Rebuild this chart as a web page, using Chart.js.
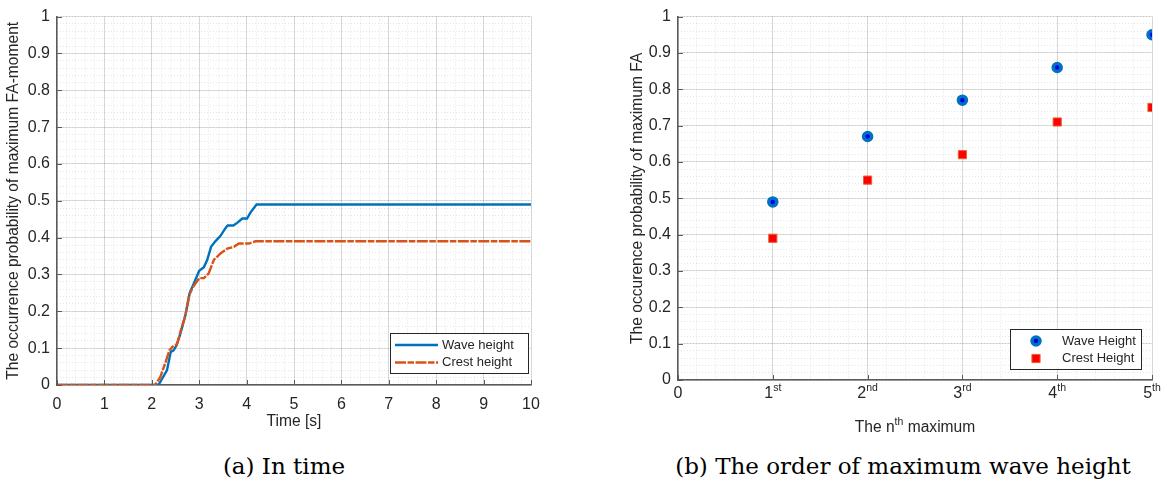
<!DOCTYPE html>
<html>
<head>
<meta charset="utf-8">
<script src="https://cdn.jsdelivr.net/npm/chart.js@4.4.1/dist/chart.umd.min.js"></script>
<style>
  html, body { margin: 0; padding: 0; background: #ffffff; }
  #wrap { position: relative; width: 1167px; height: 482px; overflow: hidden; background: #fff; }
  #c1 { position: absolute; left: 0; top: 0; }
  #c2 { position: absolute; left: 583px; top: 0; }
  .cap { position: absolute; top: 452px; height: 28px; line-height: 28px; font-family: "DejaVu Serif", "Liberation Serif", serif; font-size: 23px; color: #000; text-align: center; white-space: nowrap; }
</style>
</head>
<body>
<div id="wrap">
  <canvas id="c1" width="583" height="440"></canvas>
  <canvas id="c2" width="584" height="440"></canvas>
  <div class="cap" style="left:184px; width:200px;">(a) In time</div>
  <div class="cap" style="left:653px; width:500px;">(b) The order of maximum wave height</div>
</div>
<script>
// ---------- data: panel (a) ----------
const timeWave  = [0, 2.14, 2.32, 2.40, 2.46, 2.52, 2.60, 2.71, 2.80, 2.90, 3.00, 3.10, 3.17, 3.25, 3.34, 3.45, 3.55, 3.60, 3.72, 3.80, 3.91, 4.01, 4.08, 4.21, 10];
const waveProb  = [0, 0, 0.04, 0.09, 0.094, 0.107, 0.138, 0.19, 0.25, 0.28, 0.31, 0.32, 0.34, 0.375, 0.39, 0.405, 0.425, 0.433, 0.433, 0.44, 0.452, 0.452, 0.468, 0.49, 0.49];
const timeCrest = [0, 2.07, 2.18, 2.28, 2.37, 2.46, 2.53, 2.60, 2.71, 2.79, 2.88, 3.00, 3.10, 3.20, 3.31, 3.45, 3.59, 3.73, 3.84, 4.05, 4.19, 10];
const crestProb = [0, 0, 0.022, 0.058, 0.094, 0.107, 0.11, 0.143, 0.19, 0.245, 0.268, 0.29, 0.29, 0.303, 0.34, 0.357, 0.37, 0.375, 0.384, 0.384, 0.39, 0.39];
const seriesNamesA = ["Wave height", "Crest height"];
const titleXA = "Time [s]";
const titleYA = "The occurrence probability of maximum FA-moment";

// ---------- data: panel (b) ----------
const orderIdx   = [1, 2, 3, 4, 5];
const waveMaxP   = [0.49, 0.67, 0.77, 0.86, 0.95];
const crestMaxP  = [0.39, 0.55, 0.62, 0.71, 0.75];
const tickBaseB  = ["0", "1", "2", "3", "4", "5"];
const tickSupB   = ["", "st", "nd", "rd", "th", "th"];
const seriesNamesB = ["Wave Height", "Crest Height"];
const titleXB = ["The n", "th", " maximum"];
const titleYB = "The occurence probability of maximum FA";

// ---------- style ----------
const TXT = '#262626';
const AXIS = '#5a5a5a';
const MAJOR = 'rgba(38,38,38,0.15)';
const MINOR = 'rgba(38,38,38,0.12)';
const FONT = '"Liberation Sans", Arial, sans-serif';
const BLUE = '#0072BD', ORANGE = '#D95319';
const TICK_PX = 16, TITLE_PX = 15.6, SUP_PX = 10.5;

Chart.defaults.font.family = FONT;
Chart.defaults.color = TXT;

function toXY(xs, ys) { return xs.map((x, i) => ({x: x, y: ys[i]})); }
function yFmt(v) { const r = Math.round(v * 10) / 10; return (r === 0 || r === 1) ? String(r) : r.toFixed(1); }

function minorAxis(pos, min, max, step) {
  return {
    type: 'linear', position: pos, min: min, max: max,
    ticks: { display: false, stepSize: step },
    grid: { color: MINOR, drawTicks: false, lineWidth: 1 },
    border: { display: false, dash: [1, 2] },
    afterFit(s) { if (pos === 'bottom') s.height = 0; else s.width = 0; s.paddingLeft = 0; s.paddingRight = 0; s.paddingTop = 0; s.paddingBottom = 0; }
  };
}

const decoPlugin = {
  id: 'deco',
  afterDraw(chart, args, opts) {
    const ctx = chart.ctx, a = chart.chartArea;
    const xs = chart.scales.x, ys = chart.scales.y;
    ctx.save();
    // inward tick marks
    ctx.strokeStyle = AXIS; ctx.lineWidth = 1;
    xs.ticks.forEach(t => {
      const px = Math.round(xs.getPixelForValue(t.value)) + 0.5;
      ctx.beginPath(); ctx.moveTo(px, a.bottom); ctx.lineTo(px, a.bottom - 5); ctx.stroke();
    });
    ys.ticks.forEach(t => {
      const py = Math.round(ys.getPixelForValue(t.value)) + 0.5;
      ctx.beginPath(); ctx.moveTo(a.left, py); ctx.lineTo(a.left + 5, py); ctx.stroke();
    });
    // custom superscript tick labels
    if (opts.supTicks) {
      xs.ticks.forEach((t, i) => {
        const base = opts.supTicks.base[i], sup = opts.supTicks.sup[i];
        ctx.font = TICK_PX + 'px ' + FONT; const wb = ctx.measureText(base).width;
        ctx.font = SUP_PX + 'px ' + FONT; const ws = sup ? ctx.measureText(sup).width : 0;
        const cx = xs.getPixelForValue(t.value);
        const x0 = cx - (wb + ws) / 2;
        const yb = a.bottom + 14;
        ctx.fillStyle = TXT; ctx.textAlign = 'left'; ctx.textBaseline = 'middle';
        ctx.font = TICK_PX + 'px ' + FONT; ctx.fillText(base, x0, yb);
        if (sup) { ctx.font = SUP_PX + 'px ' + FONT; ctx.fillText(sup, x0 + wb, yb - 6); }
      });
    }
    if (opts.supTitle) {
      const parts = opts.supTitle;
      ctx.font = TITLE_PX + 'px ' + FONT; const w0 = ctx.measureText(parts[0]).width, w2 = ctx.measureText(parts[2]).width;
      ctx.font = SUP_PX + 'px ' + FONT; const w1 = ctx.measureText(parts[1]).width;
      const cx = (a.left + a.right) / 2; const x0 = cx - (w0 + w1 + w2) / 2;
      const yb = a.bottom + 48;
      ctx.fillStyle = TXT; ctx.textAlign = 'left'; ctx.textBaseline = 'middle';
      ctx.font = TITLE_PX + 'px ' + FONT; ctx.fillText(parts[0], x0, yb);
      ctx.font = SUP_PX + 'px ' + FONT; ctx.fillText(parts[1], x0 + w0, yb - 6);
      ctx.font = TITLE_PX + 'px ' + FONT; ctx.fillText(parts[2], x0 + w0 + w1, yb);
    }
    // legend
    if (opts.legend) {
      const L = opts.legend;
      const bx = a.right - L.right - L.w, by = a.bottom - L.bottom - L.h;
      ctx.fillStyle = '#ffffff'; ctx.fillRect(bx, by, L.w, L.h);
      ctx.strokeStyle = TXT; ctx.lineWidth = 1; ctx.setLineDash([]);
      ctx.strokeRect(Math.round(bx) + 0.5, Math.round(by) + 0.5, L.w, L.h);
      L.items.forEach((it, i) => {
        const ds = chart.data.datasets[i];
        const y = by + L.rows[i];
        if (L.kind === 'line') {
          ctx.strokeStyle = ds.borderColor; ctx.lineWidth = ds.borderWidth;
          ctx.setLineDash(ds.borderDash || []);
          ctx.beginPath(); ctx.moveTo(bx + L.s0, y); ctx.lineTo(bx + L.s1, y); ctx.stroke();
          ctx.setLineDash([]);
        } else {
          ctx.fillStyle = ds.pointBackgroundColor; ctx.strokeStyle = ds.pointBorderColor; ctx.lineWidth = ds.pointBorderWidth;
          ctx.beginPath();
          if (ds.pointStyle === 'circle') { ctx.arc(bx + L.mx, y, ds.pointRadius, 0, Math.PI * 2); }
          else { const s = Math.SQRT1_2 * ds.pointRadius; ctx.rect(bx + L.mx - s, y - s, 2 * s, 2 * s); }
          ctx.fill(); ctx.stroke();
        }
        ctx.fillStyle = TXT; ctx.font = '13px ' + FONT; ctx.textAlign = 'left'; ctx.textBaseline = 'middle';
        ctx.fillText(it, bx + L.tx, y);
      });
    }
    ctx.restore();
  }
};

function noPad(s) { s.paddingLeft = 0; s.paddingRight = 0; }

// ---------- chart (a) ----------
new Chart(document.getElementById('c1'), {
  type: 'scatter',
  data: {
    datasets: [
      { label: seriesNamesA[0], data: toXY(timeWave, waveProb), showLine: true, borderColor: BLUE, borderWidth: 2.4,
        pointRadius: 0, fill: false, tension: 0, order: 1 },
      { label: seriesNamesA[1], data: toXY(timeCrest, crestProb), showLine: true, borderColor: ORANGE, borderWidth: 2.4,
        borderDash: [11, 1.5, 6.5, 1.5], pointRadius: 0, fill: false, tension: 0, order: 0 }
    ]
  },
  options: {
    responsive: false, animation: false, devicePixelRatio: 1,
    layout: { padding: { left: 0, top: 10, right: 52, bottom: 0 } },
    plugins: { legend: { display: false }, tooltip: { enabled: false },
      deco: { legend: { kind: 'line', items: seriesNamesA, w: 138, h: 40, right: 3, bottom: 12,
        rows: [12, 29.5], s0: 5, s1: 48, tx: 52 } } },
    scales: {
      xm: minorAxis('bottom', 0, 10, 0.2),
      ym: minorAxis('left', 0, 1, 0.02),
      x: { type: 'linear', position: 'bottom', min: 0, max: 10,
        ticks: { stepSize: 1, autoSkip: false, maxRotation: 0, font: { size: TICK_PX }, color: TXT, padding: 10 },
        grid: { color: MAJOR, drawTicks: false },
        border: { display: true, color: AXIS, width: 1.5 },
        title: { display: true, text: titleXA, font: { size: TITLE_PX }, color: TXT, padding: { top: 0, bottom: 9 } },
        afterFit(s) { s.height = 55; noPad(s); } },
      y: { type: 'linear', position: 'left', min: 0, max: 1,
        ticks: { stepSize: 0.1, autoSkip: false, font: { size: TICK_PX }, color: TXT, padding: 7, callback: v => yFmt(v) },
        grid: { color: MAJOR, drawTicks: false },
        border: { display: true, color: AXIS, width: 1.5 },
        title: { display: true, text: titleYA, font: { size: TITLE_PX }, color: TXT, padding: { top: 4, bottom: 0 } },
        afterFit(s) { s.width = 57; } }
    }
  },
  plugins: [decoPlugin]
});

// ---------- chart (b) ----------
new Chart(document.getElementById('c2'), {
  type: 'scatter',
  data: {
    datasets: [
      { label: seriesNamesB[0], data: toXY(orderIdx, waveMaxP), showLine: false, pointStyle: 'circle',
        pointRadius: 4, pointBorderWidth: 3.5, pointBackgroundColor: '#0000FF', pointBorderColor: BLUE },
      { label: seriesNamesB[1], data: toXY(orderIdx, crestMaxP), showLine: false, pointStyle: 'rect',
        pointRadius: 5.8, pointBorderWidth: 1, pointBackgroundColor: '#FF0000', pointBorderColor: '#E8643A' }
    ]
  },
  options: {
    responsive: false, animation: false, devicePixelRatio: 1,
    layout: { padding: { left: 41, top: 10, right: 15, bottom: 0 } },
    plugins: { legend: { display: false }, tooltip: { enabled: false },
      deco: {
        supTicks: { base: tickBaseB, sup: tickSupB },
        supTitle: titleXB,
        legend: { kind: 'point', items: seriesNamesB, w: 131, h: 40, right: 11, bottom: 11,
          rows: [12, 29.5], mx: 26, tx: 52 } } },
    scales: {
      xm: minorAxis('bottom', 0, 5, 0.2),
      ym: minorAxis('left', 0, 1, 0.02),
      x: { type: 'linear', position: 'bottom', min: 0, max: 5,
        ticks: { stepSize: 1, autoSkip: false, maxRotation: 0, font: { size: TICK_PX }, color: 'rgba(0,0,0,0)', padding: 8,
          callback: (v, i) => tickBaseB[i] + tickSupB[i] },
        grid: { color: MAJOR, drawTicks: false },
        border: { display: true, color: AXIS, width: 1.5 },
        afterFit(s) { s.height = 60; noPad(s); } },
      y: { type: 'linear', position: 'left', min: 0, max: 1,
        ticks: { stepSize: 0.1, autoSkip: false, font: { size: TICK_PX }, color: TXT, padding: 7, callback: v => yFmt(v) },
        grid: { color: MAJOR, drawTicks: false },
        border: { display: true, color: AXIS, width: 1.5 },
        title: { display: true, text: titleYB, font: { size: TITLE_PX }, color: TXT, padding: { top: 4, bottom: 0 } },
        afterFit(s) { s.width = 54; } }
    }
  },
  plugins: [decoPlugin]
});
</script>
</body>
</html>
